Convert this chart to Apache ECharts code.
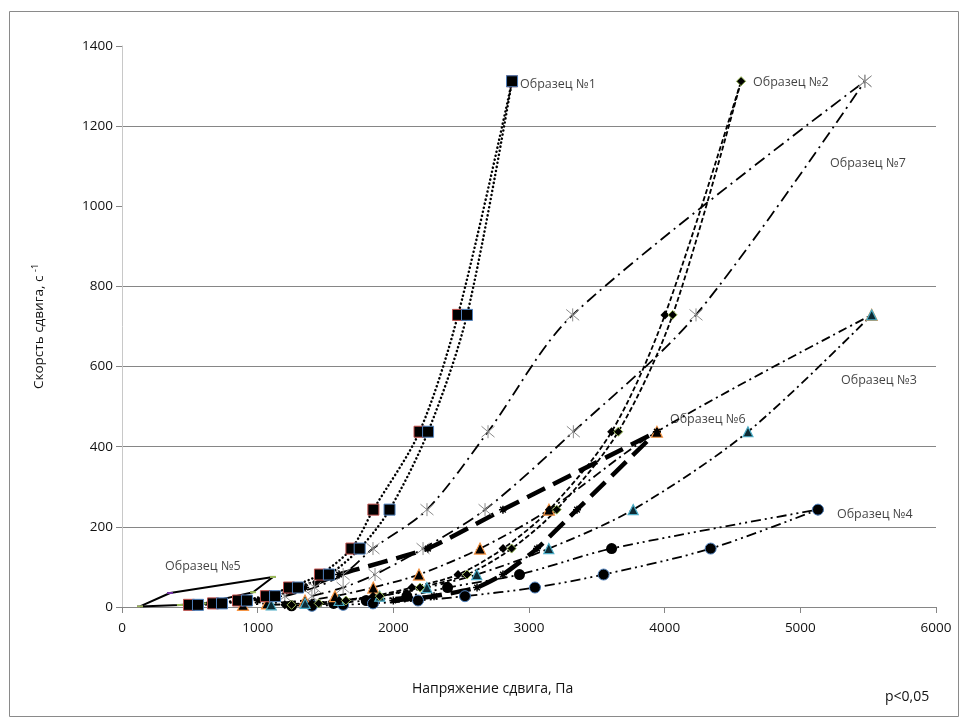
<!DOCTYPE html>
<html><head><meta charset="utf-8">
<script src="https://cdn.jsdelivr.net/npm/echarts@6/dist/echarts.min.js"></script>
<style>html,body{margin:0;padding:0;background:#fff}#c{width:967px;height:720px}</style>
</head><body><div id="c"></div>
<script>
// Shear rates (s^-1) used by the samples
const s1Rates = [5.4, 9, 16.2, 27, 48.6, 81, 145.8, 243, 437.4, 729, 1312];
const s1aStress = [494, 671, 855, 1061, 1231, 1459, 1691, 1853, 2193, 2477, 2875];
const s1bStress = [560, 737, 921, 1128, 1297, 1525, 1752, 1972, 2256, 2543, 2875];

const s2Rates = [5.4, 9, 16.2, 27, 48.6, 81, 145.8, 243, 437.4, 729, 1312];
const s2aStress = [1200, 1400, 1600, 1850, 2137, 2477, 2809, 3150, 3609, 4002, 4563];
const s2bStress = [1250, 1450, 1650, 1900, 2197, 2543, 2872, 3204, 3658, 4059, 4563];

const s3Rates = [5.4, 9, 16.2, 27, 48.6, 81, 145.8, 243, 437.4, 729];
const s3aStress = [892, 1069, 1349, 1570, 1852, 2189, 2639, 3147, 3943, 5526];
const s3bStress = [1100, 1350, 1600, 1900, 2247, 2615, 3146, 3768, 4614, 5526];

const s4Rates = [3, 5.4, 9, 16.2, 27, 48.6, 81, 145.8, 243];
const s4aStress = [1250, 1400, 1560, 1800, 2100, 2400, 2930, 3609, 5130];
const s4bStress = [1400, 1630, 1850, 2182, 2528, 3044, 3550, 4339, 5130];

const s5aRates = [1.5, 35, 75];
const s5aStress = [133, 354, 1113];
const s5bRates = [1.5, 5, 9, 37, 75];
const s5bStress = [133, 427, 600, 966, 1113];

const s6Rates = [16.2, 27, 48.6, 81, 145.8, 243, 437.4];
const s6aStress = [1000, 1150, 1350, 1600, 2255, 2808, 3943];
const s6bStress = [2000, 2300, 2617, 2808, 3059, 3354, 3943];

const s7Rates = [27, 48.6, 81, 145.8, 243, 437.4, 729, 1312];
const s7aStress = [1200, 1420, 1630, 1850, 2248, 2698, 3322, 5476];
const s7bStress = [1400, 1630, 1865, 2219, 2676, 3327, 4231, 5476];

const labelNames = ['Образец №1', 'Образец №2', 'Образец №7', 'Образец №3', 'Образец №6', 'Образец №4', 'Образец №5'];
const labelStress = [2934, 4651, 5219, 5300, 4039, 5270, 317];
const labelRates = [1305, 1310, 1108, 566, 469, 232, 100];

const yTicks = [0, 200, 400, 600, 800, 1000, 1200, 1400];
const xTicks = [0, 1000, 2000, 3000, 4000, 5000, 6000];

function pts(xs, ys) { return xs.map((x, i) => [x, ys[i]]); }

const FONT = "'Open Sans', 'Liberation Sans', sans-serif";
const ASTER = 'path://M0,0L10,10M10,0L0,10M5,-1L5,11';
const STAR = 'path://M0,5L10,5M5,0L5,10M1.5,1.5L8.5,8.5M8.5,1.5L1.5,8.5';

function line(name, data, ls, sym, symSize, item, smooth) {
  return {
    name, type: 'line', data, smooth: smooth === undefined ? 0.3 : smooth,
    symbol: sym, symbolSize: symSize, showSymbol: true,
    lineStyle: Object.assign({ color: '#000' }, ls),
    itemStyle: item, emphasis: { disabled: true }, z: 3
  };
}

const dotted = { width: 2.5, type: [0.1, 4], cap: 'round' };
const dashed = { width: 1.8, type: [5, 2.5] };
const dashDot = { width: 1.8, type: [9, 4, 2, 4] };
const dashDotDot = { width: 1.8, type: [10, 4, 2, 4, 2, 4] };
const boldDash = { width: 4.5, type: [20, 9] };
const dashDot7 = { width: 1.8, type: [12, 5, 2, 5] };
const solid = { width: 2, type: 'solid' };

const series = [
  line('s5a', pts(s5aStress, s5aRates), solid, 'rect', [6, 2], { color: '#7030a0' }, 0),
  line('s5b', pts(s5bStress, s5bRates), solid, 'rect', [6, 2], { color: '#9bbb59' }, 0),
  line('s7a', pts(s7aStress, s7Rates), dashDot7, ASTER, 13, { color: 'transparent', borderColor: '#8c8c8c', borderWidth: 1 }),
  line('s7b', pts(s7bStress, s7Rates), dashDot7, ASTER, 13, { color: 'transparent', borderColor: '#8c8c8c', borderWidth: 1 }),
  line('s4a', pts(s4aStress, s4Rates), dashDotDot, 'circle', 11, { color: '#000' }),
  line('s4b', pts(s4bStress, s4Rates), dashDotDot, 'circle', 11, { color: '#000', borderColor: '#4f81bd', borderWidth: 1 }),
  line('s3a', pts(s3aStress, s3Rates), dashDot, 'triangle', 11, { color: '#000', borderColor: '#f79646', borderWidth: 1.2 }),
  line('s3b', pts(s3bStress, s3Rates), dashDot, 'triangle', 10, { color: '#0d2a33', borderColor: '#4bacc6', borderWidth: 1.2 }),
  line('s6a', pts(s6aStress, s6Rates), boldDash, STAR, 8, { color: 'transparent', borderColor: '#000', borderWidth: 1.5 }, 0.15),
  line('s6b', pts(s6bStress, s6Rates), boldDash, STAR, 8, { color: 'transparent', borderColor: '#000', borderWidth: 1.5 }, 0.15),
  line('s2a', pts(s2aStress, s2Rates), dashed, 'diamond', 9, { color: '#000' }),
  line('s2b', pts(s2bStress, s2Rates), dashed, 'diamond', 9, { color: '#000', borderColor: '#9bbb59', borderWidth: 1 }),
  line('s1a', pts(s1aStress, s1Rates), dotted, 'rect', 11, { color: '#000', borderColor: '#c0504d', borderWidth: 1 }),
  line('s1b', pts(s1bStress, s1Rates), dotted, 'rect', 11, { color: '#000', borderColor: '#4f81bd', borderWidth: 1 }),
  {
    name: 'labels', type: 'scatter', symbolSize: 0, z: 5,
    data: labelNames.map((n, i) => ({ value: [labelStress[i], labelRates[i]], name: n })),
    label: { show: true, position: 'right', distance: 0, formatter: p => p.name,
      fontFamily: FONT, fontSize: 12.5, color: '#111' },
    emphasis: { disabled: true }
  }
];

const chart = echarts.init(document.getElementById('c'), null, { renderer: 'canvas' });
chart.setOption({
  animation: false,
  backgroundColor: '#fff',
  grid: { left: 122, right: 31, top: 46, bottom: 113 },
  xAxis: {
    type: 'value', min: xTicks[0], max: xTicks[xTicks.length - 1], interval: 1000,
    axisLine: { show: true, lineStyle: { color: '#868686', width: 1 } },
    axisTick: { show: true, length: 6, lineStyle: { color: '#868686' } },
    splitLine: { show: false },
    axisLabel: { fontFamily: FONT, fontSize: 13.5, color: '#111', margin: 14, formatter: v => String(v) }
  },
  yAxis: {
    type: 'value', min: yTicks[0], max: yTicks[yTicks.length - 1], interval: 200,
    name: '{a|Скорсть сдвига, с }{b|-1}', nameLocation: 'middle', nameGap: 74, nameRotate: 90,
    nameTextStyle: { rich: {
      a: { fontFamily: FONT, fontSize: 13.5, color: '#111' },
      b: { fontFamily: FONT, fontSize: 9, color: '#111', padding: [0, 0, 8, 0] }
    } },
    axisLine: { show: true, lineStyle: { color: '#c8c8c8', width: 1 } },
    axisTick: { show: true, length: 6, lineStyle: { color: '#868686' } },
    splitLine: { show: true, lineStyle: { width: 1, color: ['#868686', '#868686', '#868686', '#868686', '#868686', 'transparent', '#868686', 'transparent'] } },
    axisLabel: { fontFamily: FONT, fontSize: 13.5, color: '#111', margin: 9, formatter: v => String(v) }
  },
  graphic: [
    { type: 'rect', shape: { x: 9.5, y: 11.5, width: 949, height: 705 }, style: { fill: 'none', stroke: '#8a8a8a', lineWidth: 1 }, z: -1 },
    { type: 'text', left: 412, top: 682, style: { text: 'Напряжение сдвига, Па', font: "14px 'Open Sans', sans-serif", fill: '#111' } },
    { type: 'text', left: 885, top: 690, style: { text: 'p<0,05', font: "14px 'Open Sans', sans-serif", fill: '#111' } }
  ],
  series
});
</script>
</body></html>
